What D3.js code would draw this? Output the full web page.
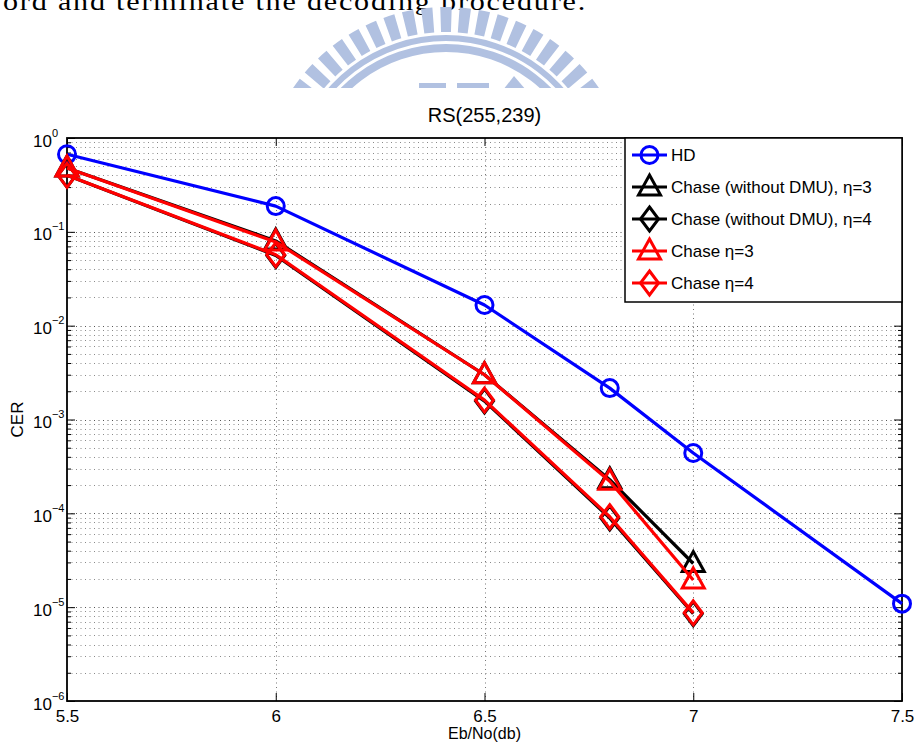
<!DOCTYPE html>
<html>
<head>
<meta charset="utf-8">
<script src="https://cdn.jsdelivr.net/npm/d3@7"></script>
<style>
  body { margin: 0; background: #fff; }
  svg { display: block; }
  text { font-family: "Liberation Sans", Arial, sans-serif; fill: #000; }
</style>
</head>
<body>
<div id="chart"></div>
<script>
// values
const ebnoChase = [5.5, 6, 6.5, 6.8, 7];
const ebnoHD = [5.5, 6, 6.5, 6.8, 7, 7.5];
const cerHD = [0.67, 0.188, 0.0166, 0.00216, 4.4e-4, 1.09e-5];
const cerNoDmu3 = [0.48, 0.080, 0.0030, 2.28e-4, 2.92e-5];
const cerNoDmu4 = [0.40, 0.056, 0.00157, 8.9e-5, 8.5e-6];
const cerChase3 = [0.48, 0.078, 0.0030, 2.2e-4, 1.95e-5];
const cerChase4 = [0.40, 0.057, 0.00161, 9.2e-5, 8.7e-6];

const xTicks = [5.5, 6, 6.5, 7, 7.5];
const yExponents = [0, -1, -2, -3, -4, -5, -6];
const minorMultipliers = [2, 3, 4, 5, 6, 7, 8, 9];
const legendLabels = [
  'HD',
  'Chase (without DMU), \u03b7=3',
  'Chase (without DMU), \u03b7=4',
  'Chase \u03b7=3',
  'Chase \u03b7=4',
];
const titleText = 'RS(255,239)';
const xLabel = 'Eb/No(db)';
const yLabel = 'CER';
const pageText = 'ord and terminate the decoding procedure.';

const series = [
  { x: ebnoHD, y: cerHD, color: '#0000ff', marker: 'circle' },
  { x: ebnoChase, y: cerNoDmu3, color: '#000000', marker: 'triangle' },
  { x: ebnoChase, y: cerNoDmu4, color: '#000000', marker: 'diamond' },
  { x: ebnoChase, y: cerChase3, color: '#ff0000', marker: 'triangle' },
  { x: ebnoChase, y: cerChase4, color: '#ff0000', marker: 'diamond' },
].map((s, i) => ({ ...s, label: legendLabels[i] }));

const W = 918, H = 749;
const plot = { left: 67, right: 902, top: 138, bottom: 701 };

const svg = d3.select('#chart').append('svg')
  .attr('width', W).attr('height', H);

// --- page background: text line and the faint watermark above the figure
svg.append('text')
  .attr('x', 3).attr('y', 10)
  .attr('textLength', 584)
  .attr('lengthAdjust', 'spacingAndGlyphs')
  .style('font-family', '"Liberation Serif", "DejaVu Serif", serif')
  .style('font-size', '25px')
  .style('letter-spacing', '1.5px')
  .text(pageText);

svg.append('clipPath').attr('id', 'wmclip')
  .append('rect').attr('x', 0).attr('y', 0).attr('width', W).attr('height', 88);

const wm = svg.append('g')
  .attr('clip-path', 'url(#wmclip)')
  .attr('fill', '#b1c1e1');
const wmCenter = wm.append('g').attr('transform', 'translate(446,192)');
const stripe = d3.arc().innerRadius(160).outerRadius(185);
d3.range(-60, 61, 6).forEach((a) => {
  const r = (a * Math.PI) / 180;
  wmCenter.append('path').attr('d', stripe({ startAngle: r - 0.031, endAngle: r + 0.031 }));
});
wmCenter.append('path').attr('d', d3.arc().innerRadius(151).outerRadius(157)({ startAngle: -1.3, endAngle: 1.3 }));
wmCenter.append('path').attr('d', d3.arc().innerRadius(140).outerRadius(148)({ startAngle: -1.3, endAngle: 1.3 }));
wm.append('rect').attr('x', 419).attr('y', 83).attr('width', 27).attr('height', 8);
wm.append('rect').attr('x', 457).attr('y', 83).attr('width', 32).attr('height', 8);
wm.append('path').attr('d', 'M503,90L514,76L526,90Z');

// --- scales
const x = d3.scaleLinear().domain([5.5, 7.5]).range([plot.left, plot.right]);
const y = d3.scaleLog().domain([1e-6, 1]).range([plot.bottom, plot.top]);

const majorY = yExponents.map((e) => Math.pow(10, e));
const minorY = [];
yExponents.slice(1).forEach((e) => {
  minorMultipliers.forEach((m) => minorY.push(m * Math.pow(10, e)));
});

// --- grid
const grid = svg.append('g').attr('fill', 'none').attr('stroke-width', 1)
  .attr('stroke-dasharray', '1,3.5');
grid.selectAll('.gminor').data(minorY).join('line')
  .attr('x1', plot.left).attr('x2', plot.right)
  .attr('y1', (d) => Math.round(y(d)) + 0.5).attr('y2', (d) => Math.round(y(d)) + 0.5)
  .attr('stroke', '#8a8a8a');
grid.selectAll('.gmajor').data(majorY.slice(1, -1)).join('line')
  .attr('x1', plot.left).attr('x2', plot.right)
  .attr('y1', (d) => Math.round(y(d)) + 0.5).attr('y2', (d) => Math.round(y(d)) + 0.5)
  .attr('stroke', '#555');
grid.selectAll('.gx').data(xTicks.slice(1, -1)).join('line')
  .attr('x1', (d) => Math.round(x(d)) + 0.5).attr('x2', (d) => Math.round(x(d)) + 0.5)
  .attr('y1', plot.top).attr('y2', plot.bottom)
  .attr('stroke', '#777');

// --- axes (ticks pointing inward)
function styleAxis(g) {
  g.select('.domain').remove();
  g.selectAll('.tick line').attr('stroke', '#000').attr('stroke-width', 1);
}
svg.append('g').attr('transform', `translate(0,${plot.bottom})`)
  .call(d3.axisBottom(x).tickValues(xTicks).tickSize(-8).tickPadding(12).tickFormat(d3.format('')))
  .call(styleAxis)
  .call((g) => g.selectAll('.tick text')
    .attr('y', 21).attr('dy', null)
    .style('font-size', '17px').style('font-family', '"Liberation Sans", Arial, sans-serif'));
svg.append('g').attr('transform', `translate(0,${plot.top})`)
  .call(d3.axisTop(x).tickValues(xTicks).tickSize(-8).tickFormat(''))
  .call(styleAxis);

const yAxisL = svg.append('g').attr('transform', `translate(${plot.left},0)`)
  .call(d3.axisLeft(y).tickValues(majorY).tickSize(-8).tickFormat(''))
  .call(styleAxis);
svg.append('g').attr('transform', `translate(${plot.left},0)`)
  .call(d3.axisLeft(y).tickValues(minorY).tickSize(-4).tickFormat(''))
  .call(styleAxis);
svg.append('g').attr('transform', `translate(${plot.right},0)`)
  .call(d3.axisRight(y).tickValues(majorY).tickSize(-8).tickFormat(''))
  .call(styleAxis);
svg.append('g').attr('transform', `translate(${plot.right},0)`)
  .call(d3.axisRight(y).tickValues(minorY).tickSize(-4).tickFormat(''))
  .call(styleAxis);

// power-of-ten labels
yAxisL.selectAll('.tick').each(function (d) {
  const e = Math.round(Math.log10(d));
  const t = d3.select(this).append('text')
    .attr('x', -34).attr('y', 8)
    .attr('text-anchor', 'start')
    .style('font-size', '17px')
    .style('font-family', '"Liberation Sans", Arial, sans-serif');
  t.append('tspan').text('10');
  t.append('tspan').attr('dy', -10).style('font-size', '11px')
    .text(e < 0 ? '\u2212' + Math.abs(e) : String(e));
});

// box
svg.append('rect')
  .attr('x', plot.left).attr('y', plot.top)
  .attr('width', plot.right - plot.left).attr('height', plot.bottom - plot.top)
  .attr('fill', 'none').attr('stroke', '#000').attr('stroke-width', 1.8);

// --- markers
const markerPath = {
  triangle: 'M0,-12L11,8L-11,8Z',
  diamond: 'M0,-12L9,0L0,12L-9,0Z',
};
function addMarker(g, type, color) {
  if (type === 'circle') {
    g.append('circle').attr('r', 8.5)
      .attr('fill', 'none').attr('stroke', color).attr('stroke-width', 3);
  } else {
    g.append('path').attr('d', markerPath[type])
      .attr('fill', 'none').attr('stroke', color).attr('stroke-width', 3)
      .attr('stroke-linejoin', 'miter');
  }
}

// --- lines
const line = d3.line().x((d) => x(d[0])).y((d) => y(d[1]));
series.forEach((s) => {
  const pts = s.x.map((v, i) => [v, s.y[i]]);
  const g = svg.append('g');
  g.append('path').datum(pts)
    .attr('d', line)
    .attr('fill', 'none').attr('stroke', s.color).attr('stroke-width', 3.2)
    .attr('stroke-linejoin', 'round');
  g.selectAll('.m').data(pts).join('g')
    .attr('transform', (d) => `translate(${x(d[0])},${y(d[1])})`)
    .each(function () { addMarker(d3.select(this), s.marker, s.color); });
});

// --- legend
const legend = svg.append('g');
legend.append('rect')
  .attr('x', 625).attr('y', plot.top).attr('width', plot.right - 625).attr('height', 164)
  .attr('fill', '#fff').attr('stroke', '#000').attr('stroke-width', 1.5);
const items = legend.selectAll('.item').data(series).join('g')
  .attr('transform', (d, i) => `translate(0,${155 + i * 32})`);
items.append('line')
  .attr('x1', 632).attr('x2', 667)
  .attr('stroke', (d) => d.color).attr('stroke-width', 3.2);
items.append('g').attr('transform', 'translate(649.5,0)')
  .each(function (d) { addMarker(d3.select(this), d.marker, d.color); });
items.append('text')
  .attr('x', 671).attr('y', 6)
  .style('font-size', '17px')
  .text((d) => d.label);

// --- titles
svg.append('text')
  .attr('x', (plot.left + plot.right) / 2).attr('y', 122)
  .attr('text-anchor', 'middle').style('font-size', '20px')
  .text(titleText);
svg.append('text')
  .attr('x', (plot.left + plot.right) / 2).attr('y', 739)
  .attr('text-anchor', 'middle').style('font-size', '16px')
  .text(xLabel);
svg.append('text')
  .attr('transform', `translate(23,${(plot.top + plot.bottom) / 2}) rotate(-90)`)
  .attr('text-anchor', 'middle').style('font-size', '17px')
  .text(yLabel);
</script>
</body>
</html>
